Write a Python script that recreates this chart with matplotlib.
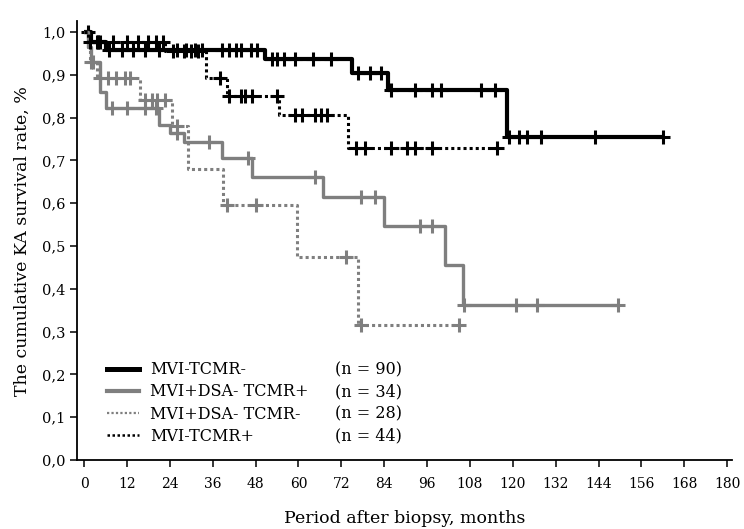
import numpy as np
import matplotlib
matplotlib.use("Agg")
import matplotlib.pyplot as plt
from matplotlib.lines import Line2D
from matplotlib.ticker import FuncFormatter

# ---- data ----
group_names = ["MVI-TCMR-", "MVI+DSA- TCMR+", "MVI+DSA- TCMR-", "MVI-TCMR+"]
group_n = [90, 34, 28, 44]

# MVI-TCMR-
t_a = [0, 2, 6, 50.5, 75, 85, 118.5, 162]
s_a = [1.0, 0.977, 0.958, 0.936, 0.904, 0.864, 0.755, 0.755]
c_a = [1, 3.6, 4.4, 7, 10.5, 13.6, 17, 21, 26, 28.6, 31, 33, 38.6, 40.5, 42.5, 44,
       46.7, 48.3, 52.5, 54, 56, 59, 64, 69, 76.7, 80, 83, 86, 92.5, 97.5, 100,
       111, 115, 119, 121.7, 124, 128, 143, 162]

# MVI+DSA- TCMR+
t_b = [0, 1, 2, 4.5, 6, 21, 24, 28, 38.5, 47, 67, 84, 101, 106, 149.5]
s_b = [1.0, 0.964, 0.929, 0.86, 0.822, 0.783, 0.764, 0.743, 0.705, 0.661,
       0.615, 0.547, 0.456, 0.362, 0.362]
c_b = [2, 7.8, 12, 17, 20, 26, 35, 46, 64.5, 77.5, 81.4, 94, 97.5, 106.4,
       121, 126.7, 149.5]

# MVI+DSA- TCMR-
t_c = [0, 1, 1.5, 3.5, 15.5, 24.5, 29, 39, 59.5, 76.7, 105]
s_c = [1.0, 0.964, 0.929, 0.893, 0.841, 0.78, 0.68, 0.596, 0.474, 0.315, 0.315]
c_c = [2.5, 4.4, 6.7, 9, 11.4, 12.8, 17, 19, 20.5, 22.5, 26, 40, 48, 73.3,
       77.5, 105]

# MVI-TCMR+
t_d = [0, 1, 22.5, 34, 40, 54.5, 74, 115.5]
s_d = [1.0, 0.977, 0.955, 0.893, 0.85, 0.806, 0.73, 0.73]
c_d = [1.5, 4, 8, 12, 15, 18, 20, 22, 25, 28, 30, 32, 38, 40.5, 44, 45, 47,
       54, 59, 61, 64.6, 66.4, 68, 76, 78.6, 86, 90.5, 92.5, 97.5, 115.5]

x_ticks = list(range(0, 181, 12))
y_ticks = [i / 10 for i in range(11)]

# ---- styles ----
FONT = "DejaVu Serif"
plt.rcParams["font.family"] = [FONT]
GRAY = "#7f7f7f"
styles = [
    dict(color="black", lw=3.0, ls="-"),
    dict(color=GRAY, lw=2.4, ls="-"),
    dict(color=GRAY, lw=2.2, ls=(0, (1, 1))),
    dict(color="black", lw=2.2, ls=(0, (1, 1))),
]
series = [(t_a, s_a, c_a), (t_b, s_b, c_b), (t_c, s_c, c_c), (t_d, s_d, c_d)]

fig = plt.figure(figsize=(7.44, 5.29), dpi=100)
ax = fig.add_axes([0.1035, 0.1304, 0.881, 0.8293])

def step_val(t, s, x):
    idx = np.searchsorted(np.asarray(t), x, side="right") - 1
    return np.asarray(s)[np.clip(idx, 0, len(s) - 1)]

for (t, s, c), st in zip(series, styles):
    ax.step(t, s, where="post", color=st["color"], lw=st["lw"], ls=st["ls"],
            solid_capstyle="butt")
    cy = step_val(t, s, np.asarray(c))
    ax.plot(c, cy, ls="none", marker="+", ms=10, mew=2.2, color=st["color"])

ax.set_xlim(-2, 181.5)
ax.set_ylim(0, 1.025)
ax.set_xticks(x_ticks)
ax.set_yticks(y_ticks)
ax.yaxis.set_major_formatter(FuncFormatter(lambda v, p: f"{v:.1f}".replace(".", ",")))
ax.spines["top"].set_visible(False)
ax.spines["right"].set_visible(False)
for sp in ("left", "bottom"):
    ax.spines[sp].set_linewidth(1.3)
ax.tick_params(axis="both", direction="out", length=5, width=1.1, labelsize=10.5)
ax.tick_params(axis="x", pad=7, labelsize=10)

ax.set_xlabel("Period after biopsy, months", fontsize=12.5, labelpad=14)
ax.set_ylabel("The cumulative KA survival rate, %", fontsize=12.5, labelpad=8)

handles = [Line2D([], [], color=st["color"], lw=st["lw"] + 0.6, ls=st["ls"]) for st in styles]
handles[2] = Line2D([], [], color=GRAY, lw=1.6, ls=(0, (1, 1)))
handles[3] = Line2D([], [], color="black", lw=1.8, ls=(0, (1, 1)))
leg = ax.legend(handles, group_names, loc="lower left", bbox_to_anchor=(0.046, 0.035),
                frameon=False, fontsize=11.5, handlelength=2.0, handletextpad=0.7,
                labelspacing=0.32, borderpad=0, borderaxespad=0)

fig.canvas.draw()
inv = ax.transAxes.inverted()
for txt, n in zip(leg.get_texts(), group_n):
    bb = txt.get_window_extent()
    yc = (bb.y0 + bb.y1) / 2
    xa, ya = inv.transform((0, yc))
    ax.text(0.394, ya, f"(n = {n})", transform=ax.transAxes, fontsize=11.5,
            va="center", ha="left")

fig.savefig("out.png", dpi=100)
